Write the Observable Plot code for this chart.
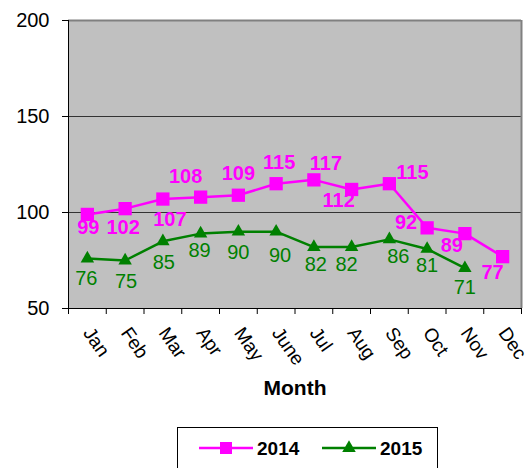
<!DOCTYPE html>
<html>
<head>
<meta charset="utf-8">
<script src="https://cdn.jsdelivr.net/npm/d3@7"></script>
<script src="https://cdn.jsdelivr.net/npm/@observablehq/plot@0.6"></script>
<style>
  body { margin: 0; background: white; font-family: Arial, "Liberation Sans", sans-serif; }
  #legend { display: block; }
</style>
</head>
<body>
<div id="chart"></div>
<svg id="legend" width="531" height="48"></svg>
<script>
const months = ["Jan","Feb","Mar","Apr","May","June","Jul","Aug","Sep","Oct","Nov","Dec"];
const values2014 = [99,102,107,108,109,115,117,112,115,92,89,77];
const values2015 = [76,75,85,89,90,90,82,82,86,81,71];
const yTicks = [50,100,150,200];

// label offsets (styling)
const lab2014dx = [1,-2,7,-15,0,3,12,-13,23,-21,-13,-10];
const lab2014dy = [13,19,21,-21,-22,-21,-16,11,-11,-5,12,16];
const lab2015dx = [-1,1,1,-1,0,4,2,-5,9,0,0];
const lab2015dy = [20,21,21,17,21,24,18,18,17,17,19];

const C14 = "#ff00ff", C15 = "#008000";
const font = "Arial, 'Liberation Sans', sans-serif";

const d14 = values2014.map((v,i)=>({x:i+0.5, v, m:months[i]}));
const d15 = values2015.map((v,i)=>({x:i+0.5, v, m:months[i]}));

const labels14 = d14.map((d,i)=>Plot.text([d],{x:"x", y:"v", text:d=>String(d.v), dx:lab2014dx[i], dy:lab2014dy[i], fill:C14, fontWeight:"bold", fontSize:20}));
const labels15 = d15.map((d,i)=>Plot.text([d],{x:"x", y:"v", text:d=>String(d.v), dx:lab2015dx[i], dy:lab2015dy[i], fill:C15, fontSize:20}));

const chart = Plot.plot({
  width: 531, height: 420,
  marginLeft: 68, marginRight: 10, marginTop: 20, marginBottom: 112,
  style: {fontFamily: font, fontSize: "18px", color: "#000", background: "white", overflow: "visible"},
  x: {domain: [0,12], axis: null},
  y: {domain: [50,200], axis: null},
  marks: [
    Plot.frame({fill: "#c0c0c0"}),
    Plot.ruleY([100,150], {stroke: "#333", strokeWidth: 1}),
    Plot.ruleY([200], {stroke: "#808080", strokeWidth: 2}),
    Plot.ruleX([12], {stroke: "#808080", strokeWidth: 2}),
    Plot.ruleX([0], {stroke: "#000", strokeWidth: 1}),
    Plot.ruleY([50], {stroke: "#000", strokeWidth: 1}),
    Plot.axisY({ticks: yTicks, tickSize: 6, tickPadding: 13, fontSize: 20, label: null}),
    Plot.axisX({ticks: d3.range(13), tickSize: 6, tickFormat: () => "", label: null}),
    Plot.axisX({ticks: months.map((m,i)=>i+0.5), tickSize: 0, tickRotate: 55, tickPadding: 21, fontSize: 19,
      tickFormat: v => months[Math.floor(v)], label: null}),
    Plot.line(d14, {x:"x", y:"v", stroke: C14, strokeWidth: 2.5}),
    Plot.dot(d14, {x:"x", y:"v", symbol:"square", r: 7.5, fill: C14, stroke: "none"}),
    Plot.line(d15, {x:"x", y:"v", stroke: C15, strokeWidth: 2.5}),
    Plot.dot(d15, {x:"x", y:"v", symbol:"triangle", r: 5, fill: C15, stroke: "none"}),
    ...labels14,
    ...labels15,
    Plot.text(["Month"], {frameAnchor: "bottom", lineAnchor: "middle", dy: 80, text: d=>d, fontWeight: "bold", fontSize: 21})
  ]
});
document.getElementById("chart").appendChild(chart);

// legend
const lg = d3.select("#legend");
lg.append("rect").attr("x",177.5).attr("y",7.5).attr("width",260).attr("height",60).attr("fill","white").attr("stroke","#000");
const items = [
  {label:"2014", color:C14, sym:d3.symbolSquare, size:144, x0:199},
  {label:"2015", color:C15, sym:d3.symbolTriangle, size:80, x0:322}
];
items.forEach(it => {
  lg.append("line").attr("x1",it.x0).attr("x2",it.x0+54).attr("y1",28).attr("y2",28).attr("stroke",it.color).attr("stroke-width",2.5);
  lg.append("path").attr("d", d3.symbol(it.sym, it.size)()).attr("transform",`translate(${it.x0+27},28)`).attr("fill",it.color);
  lg.append("text").attr("x",it.x0+58).attr("y",28).attr("dy","0.35em").attr("font-family",font).attr("font-size",19).attr("font-weight","bold").text(it.label);
});
</script>
</body>
</html>
